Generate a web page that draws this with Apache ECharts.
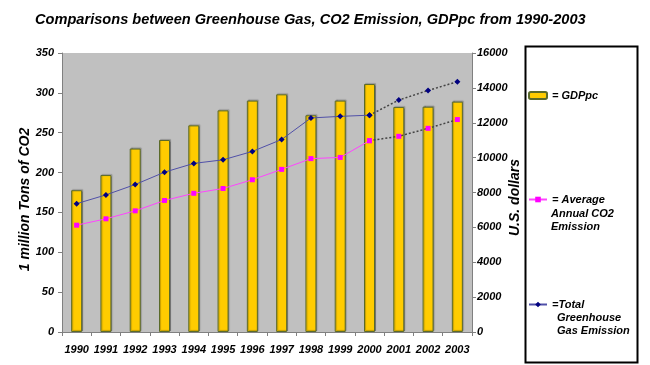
<!DOCTYPE html>
<html>
<head>
<meta charset="utf-8">
<script src="https://cdn.jsdelivr.net/npm/echarts@6/dist/echarts.min.js"></script>
<style>
html,body{margin:0;padding:0;background:#fff;}
#c{width:650px;height:365px;}
</style>
</head>
<body>
<div id="c"></div>
<script>
var years = ['1990','1991','1992','1993','1994','1995','1996','1997','1998','1999','2000','2001','2002','2003'];
var gdppc = [8130, 9000, 10520, 11010, 11850, 12710, 13270, 13630, 12430, 13270, 14220, 12900, 12920, 13210];
var co2 = [134, 142, 152, 165, 174, 180, 191, 204, 217.5, 219, 240, 245.5, 255.5, 266.5];
var ghg = [161, 172, 185, 200.5, 211.5, 216, 226.5, 241.5, 268.5, 270.5, 272, 291, 303, 314];
var leftTicks = {min: 0, max: 350, interval: 50};
var rightTicks = {min: 0, max: 16000, interval: 2000};
var splitYear = 10; // 2000: solid up to here, dotted afterwards

function solidPart(arr){ return arr.map(function(v,i){ return i <= splitYear ? v : null; }); }
function dashPart(arr){ return arr.map(function(v,i){ return i >= splitYear ? v : null; }); }

var FF = '"Liberation Sans", Arial, sans-serif';
var lab = {fontFamily: FF, fontStyle: 'italic', fontWeight: 'bold', fontSize: 11, color: '#000'};

var chart = echarts.init(document.getElementById('c'), null, {renderer: 'canvas'});
chart.setOption({
  animation: false,
  backgroundColor: '#fff',
  title: {
    text: 'Comparisons between Greenhouse Gas, CO2 Emission, GDPpc from 1990-2003',
    left: 30, top: 7,
    textStyle: {fontFamily: FF, fontStyle: 'italic', fontWeight: 'bold', fontSize: 14.6, color: '#000'}
  },
  grid: {left: 62, right: 178, top: 53, bottom: 33, show: true, backgroundColor: '#C0C0C0', borderWidth: 0},
  xAxis: {
    type: 'category', data: years, boundaryGap: true,
    axisLine: {lineStyle: {color: '#808080', width: 1}},
    axisTick: {show: true, alignWithLabel: false, length: 4, lineStyle: {color: '#808080'}},
    axisLabel: Object.assign({margin: 12, interval: 0}, lab)
  },
  yAxis: [{
    type: 'value', min: leftTicks.min, max: leftTicks.max, interval: leftTicks.interval,
    name: '1 million Tons of CO2', nameLocation: 'middle', nameGap: 30, nameRotate: 90, nameMoveOverlap: false,
    nameTextStyle: {fontFamily: FF, fontStyle: 'italic', fontWeight: 'bold', fontSize: 14, color: '#000', padding: [0, 14, 0, 0]},
    axisLine: {show: true, lineStyle: {color: '#808080'}},
    axisTick: {show: true, length: 4, lineStyle: {color: '#808080'}},
    splitLine: {show: false},
    axisLabel: Object.assign({margin: 8}, lab)
  }, {
    type: 'value', min: rightTicks.min, max: rightTicks.max, interval: rightTicks.interval,
    position: 'right',
    name: 'U.S. dollars', nameLocation: 'middle', nameGap: 36, nameRotate: 90, nameMoveOverlap: false,
    nameTextStyle: {fontFamily: FF, fontStyle: 'italic', fontWeight: 'bold', fontSize: 14, color: '#000', padding: [0, 10, 0, 0]},
    axisLine: {show: true, lineStyle: {color: '#808080'}},
    axisTick: {show: true, length: 4, lineStyle: {color: '#808080'}},
    splitLine: {show: false},
    axisLabel: Object.assign({margin: 5, formatter: function(v){ return String(v); }}, lab)
  }],
  legend: [
    {data: ['GDPpc'], left: 528, top: 90, padding: 0, itemWidth: 18, itemHeight: 7,
     formatter: function(){ return '= GDPpc'; }, textStyle: lab, selectedMode: false},
    {data: ['Average Annual CO2 Emission'], left: 528, top: 194, padding: 0, itemWidth: 18, itemHeight: 7,
     formatter: function(){ return '= Average'; }, textStyle: lab, selectedMode: false},
    {data: ['Total Greenhouse Gas Emission'], left: 528, top: 299, padding: 0, itemWidth: 18, itemHeight: 7, itemGap: 0,
     formatter: function(){ return '=Total'; }, textStyle: lab, selectedMode: false}
  ],
  graphic: [
    {type: 'rect', left: 523, top: 44, shape: {width: 112, height: 316}, style: {fill: 'none', stroke: '#000', lineWidth: 2}, z: 10},
    {type: 'text', left: 551, top: 208, style: {text: 'Annual CO2', font: 'italic bold 11px ' + FF, fill: '#000'}},
    {type: 'text', left: 551, top: 221, style: {text: 'Emission', font: 'italic bold 11px ' + FF, fill: '#000'}},
    {type: 'text', left: 557, top: 312, style: {text: 'Greenhouse', font: 'italic bold 11px ' + FF, fill: '#000'}},
    {type: 'text', left: 557, top: 325, style: {text: 'Gas Emission', font: 'italic bold 11px ' + FF, fill: '#000'}}
  ],
  series: [
    {name: 'GDPpc', type: 'bar', yAxisIndex: 1, data: gdppc, barWidth: 11,
     itemStyle: {color: '#FFCC00', borderColor: '#5a6a2a', borderWidth: 1,
                 shadowColor: 'rgba(0,0,0,0.25)', shadowOffsetX: 1, shadowOffsetY: -1, shadowBlur: 1}},
    {name: 'Average Annual CO2 Emission', type: 'line', yAxisIndex: 0, data: solidPart(co2),
     symbol: 'rect', symbolSize: 5, connectNulls: false,
     lineStyle: {color: '#FF44FF', width: 1}, itemStyle: {color: '#FF00FF'}, z: 3},
    {name: 'co2dash', type: 'line', yAxisIndex: 0, data: dashPart(co2),
     symbol: 'rect', symbolSize: 5,
     lineStyle: {color: '#444', width: 1.5, type: [2, 2]}, itemStyle: {color: '#FF00FF'}, z: 2},
    {name: 'Total Greenhouse Gas Emission', type: 'line', yAxisIndex: 0, data: solidPart(ghg),
     symbol: 'diamond', symbolSize: 6,
     lineStyle: {color: '#5050A8', width: 1}, itemStyle: {color: '#000080'}, z: 3},
    {name: 'ghgdash', type: 'line', yAxisIndex: 0, data: dashPart(ghg),
     symbol: 'diamond', symbolSize: 6,
     lineStyle: {color: '#444', width: 1.5, type: [2, 2]}, itemStyle: {color: '#000080'}, z: 2}
  ]
});
</script>
</body>
</html>
